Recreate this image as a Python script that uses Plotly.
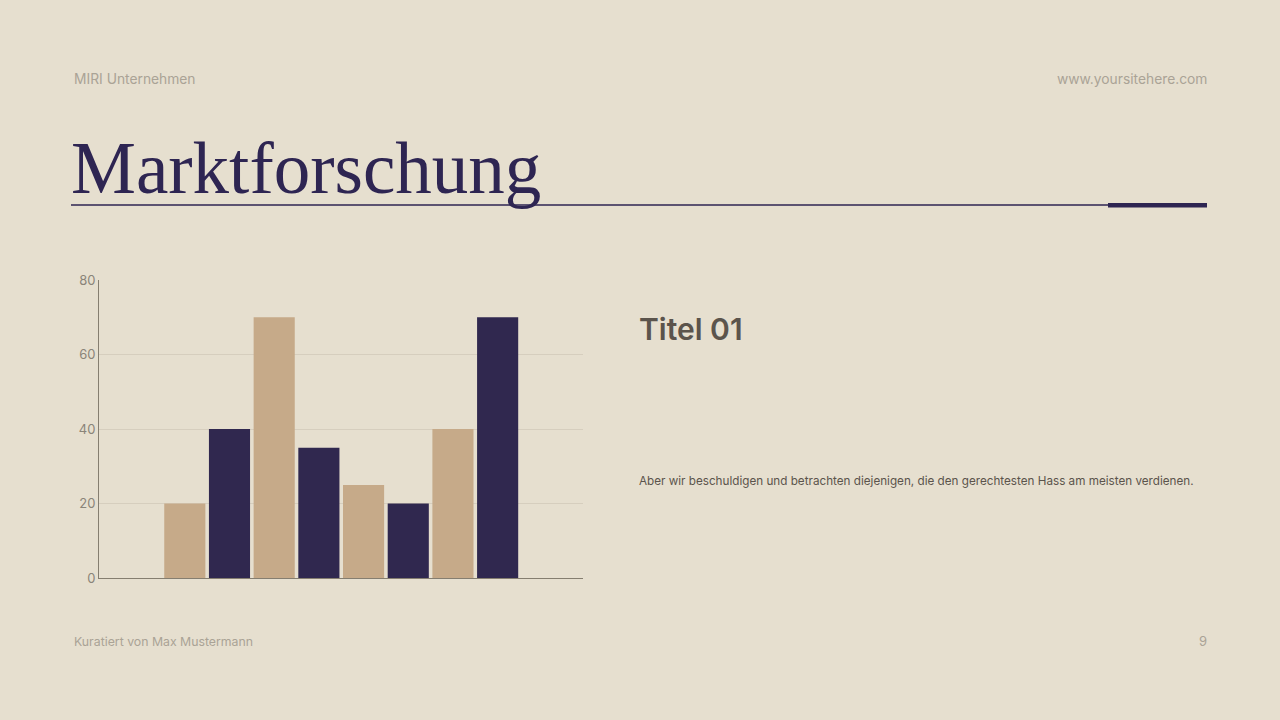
import plotly.graph_objects as go

# Chart data
categories = ["1", "2", "3", "4", "5", "6", "7", "8"]
values = [20, 40, 70, 35, 25, 20, 40, 70]
bar_colors = ["#c6aa89", "#30284f", "#c6aa89", "#30284f",
              "#c6aa89", "#30284f", "#c6aa89", "#30284f"]
y_ticks = [0, 20, 40, 60, 80]

BG = "#e6dfcf"
NAVY = "#2e2552"
TEXT = "#5b544c"
LIGHT = "#aaa396"
SANS = "Inter, Noto Sans, sans-serif"

fig = go.Figure()

fig.add_trace(go.Bar(
    x=categories,
    y=values,
    marker=dict(color=bar_colors, line=dict(width=0)),
    hoverinfo="y",
))

fig.update_layout(
    width=1280,
    height=720,
    paper_bgcolor=BG,
    plot_bgcolor=BG,
    showlegend=False,
    bargap=0.08,
    margin=dict(l=99, r=697, t=280, b=142),
    xaxis=dict(
        type="category",
        range=[-1.92, 8.91],
        showticklabels=False,
        showgrid=False,
        zeroline=False,
        showline=True,
        linecolor="#857e70",
        linewidth=1,
        fixedrange=True,
    ),
    yaxis=dict(
        range=[0, 80],
        tickvals=y_ticks,
        showgrid=True,
        gridcolor="#d6cebe",
        gridwidth=1,
        zeroline=False,
        showline=True,
        linecolor="#857e70",
        linewidth=1,
        ticks="",
        tickfont=dict(family=SANS, size=13, color="#8a8479"),
        fixedrange=True,
    ),
)

# Page texts
def note(text, x, y, size, color, anchor="left", family=SANS, weight=None):
    font = dict(family=family, size=size, color=color)
    if weight:
        font["weight"] = weight
    fig.add_annotation(
        text=text, x=x, y=y, xref="paper", yref="paper",
        xanchor=anchor, yanchor="middle", showarrow=False,
        font=font,
    )

# convert pixel positions to paper coords of the plot area
def px(xp):
    return (xp - 99) / (583 - 99)

def py(yp):
    return (578 - yp) / (578 - 280)

note("MIRI Unternehmen", px(72), py(79), 13.8, LIGHT)
note("www.yoursitehere.com", px(1209), py(79), 13.8, LIGHT, anchor="right")
note("Kuratiert von Max Mustermann", px(72), py(641), 12.3, LIGHT)
note("9", px(1209), py(641), 13, LIGHT, anchor="right")
note("Marktforschung", px(69), py(168), 73, NAVY, family="Liberation Serif, DejaVu Serif, serif")
note("Titel 01", px(637), py(329), 30, TEXT, weight=600)
note("Aber wir beschuldigen und betrachten diejenigen, die den gerechtesten Hass am meisten verdienen.",
     px(637), py(481), 11.7, TEXT)

# Title rule with accent bar
fig.add_shape(type="line", xref="paper", yref="paper",
              x0=px(71), x1=px(1207), y0=py(205), y1=py(205),
              line=dict(color=NAVY, width=1.5))
fig.add_shape(type="rect", xref="paper", yref="paper",
              x0=px(1108), x1=px(1207), y0=py(207.5), y1=py(203),
              fillcolor=NAVY, line=dict(width=0))

fig.write_html("out.html", config={"displayModeBar": False},
               post_script="document.body.style.margin='0';")
